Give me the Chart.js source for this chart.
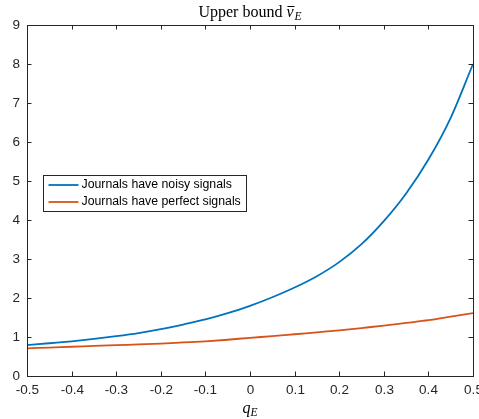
<!DOCTYPE html>
<html>
<head>
<meta charset="utf-8">
<script src="https://cdn.jsdelivr.net/npm/chart.js@4"></script>
<style>
  html, body { margin: 0; padding: 0; background: #fff; }
  #wrap { width: 479px; height: 419px; }
</style>
</head>
<body>
<div id="wrap"><canvas id="chart" width="479" height="419"></canvas></div>
<script>
// Data
const qValues = [-0.5, -0.45, -0.4, -0.35, -0.3, -0.25, -0.2, -0.15, -0.1, -0.05, 0, 0.05, 0.1, 0.15, 0.2, 0.25, 0.3, 0.35, 0.4, 0.45, 0.5];
const noisyValues = [0.79, 0.84, 0.89, 0.95, 1.02, 1.10, 1.20, 1.32, 1.45, 1.61, 1.80, 2.02, 2.27, 2.56, 2.92, 3.38, 3.97, 4.68, 5.55, 6.62, 8.00];
const perfectValues = [0.71, 0.73, 0.75, 0.77, 0.79, 0.81, 0.83, 0.86, 0.89, 0.93, 0.98, 1.02, 1.07, 1.12, 1.17, 1.23, 1.29, 1.36, 1.43, 1.52, 1.61];
const xTickLabels = ['-0.5', '-0.4', '-0.3', '-0.2', '-0.1', '0', '0.1', '0.2', '0.3', '0.4', '0.5'];
const yTickLabels = ['0', '1', '2', '3', '4', '5', '6', '7', '8', '9'];
const seriesLabels = ['Journals have noisy signals', 'Journals have perfect signals'];

const axisColor = '#262626';
const sansFont = '"Liberation Sans", Arial, sans-serif';
const serifFont = '"Liberation Serif", "DejaVu Serif", serif';

function toPoints(ys) {
    return qValues.map((q, i) => ({ x: q, y: ys[i] }));
}

// Draws the MATLAB style box, inward ticks, labels, title and legend
const matlabAxes = {
    id: 'matlabAxes',
    afterDraw(chart) {
        const ctx = chart.ctx;
        const area = chart.chartArea;
        const xs = chart.scales.x;
        const ys = chart.scales.y;
        const tick = 4.5;

        ctx.save();
        ctx.strokeStyle = axisColor;
        ctx.lineWidth = 1;

        // box
        ctx.strokeRect(Math.round(area.left) + 0.5, Math.round(area.top) + 0.5,
            Math.round(area.right - area.left), Math.round(area.bottom - area.top));

        // ticks + labels
        ctx.fillStyle = axisColor;
        ctx.font = '13.5px ' + sansFont;
        ctx.textAlign = 'center';
        ctx.textBaseline = 'top';
        xTickLabels.forEach(lbl => {
            const px = Math.round(xs.getPixelForValue(parseFloat(lbl))) + 0.5;
            ctx.beginPath();
            ctx.moveTo(px, area.bottom);
            ctx.lineTo(px, area.bottom - tick);
            ctx.moveTo(px, area.top);
            ctx.lineTo(px, area.top + tick);
            ctx.stroke();
            ctx.fillText(lbl, px, area.bottom + 8);
        });
        ctx.textAlign = 'right';
        ctx.textBaseline = 'middle';
        yTickLabels.forEach(lbl => {
            const py = Math.round(ys.getPixelForValue(parseFloat(lbl))) + 0.5;
            ctx.beginPath();
            ctx.moveTo(area.left, py);
            ctx.lineTo(area.left + tick, py);
            ctx.moveTo(area.right, py);
            ctx.lineTo(area.right - tick, py);
            ctx.stroke();
            ctx.fillText(lbl, area.left - 7, py);
        });

        // title: Upper bound v-bar_E
        ctx.fillStyle = '#000';
        ctx.textBaseline = 'alphabetic';
        ctx.textAlign = 'left';
        const titleMain = 'Upper bound ';
        ctx.font = '16px ' + serifFont;
        const w1 = ctx.measureText(titleMain).width;
        ctx.font = 'italic 16px ' + serifFont;
        const w2 = ctx.measureText('v').width;
        ctx.font = 'italic 11.5px ' + serifFont;
        const w3 = ctx.measureText('E').width;
        const cx = (area.left + area.right) / 2;
        let tx = cx - (w1 + w2 + w3 + 1) / 2;
        const ty = 17;
        ctx.font = '16px ' + serifFont;
        ctx.fillText(titleMain, tx, ty);
        tx += w1;
        ctx.font = 'italic 16px ' + serifFont;
        ctx.fillText('v', tx, ty);
        ctx.fillRect(tx + 1, ty - 11, w2, 1);
        tx += w2 + 1;
        ctx.font = 'italic 11.5px ' + serifFont;
        ctx.fillText('E', tx, ty + 3);

        // x label q_E
        ctx.font = 'italic 16px ' + serifFont;
        const wq = ctx.measureText('q').width;
        ctx.font = 'italic 11.5px ' + serifFont;
        const wE = ctx.measureText('E').width;
        let lx = cx - (wq + wE) / 2;
        const ly = 413;
        ctx.font = 'italic 16px ' + serifFont;
        ctx.fillText('q', lx, ly);
        ctx.font = 'italic 11.5px ' + serifFont;
        ctx.fillText('E', lx + wq, ly + 3);

        // legend
        const lgX = 43.5, lgY = 175.5, lgW = 203, lgH = 36;
        ctx.fillStyle = '#fff';
        ctx.fillRect(lgX, lgY, lgW, lgH);
        ctx.strokeStyle = axisColor;
        ctx.strokeRect(lgX, lgY, lgW, lgH);
        ctx.font = '12.3px ' + sansFont;
        ctx.textBaseline = 'middle';
        chart.data.datasets.forEach((ds, i) => {
            const rowY = lgY + 9.5 + i * 17;
            ctx.strokeStyle = ds.borderColor;
            ctx.lineWidth = 1.8;
            ctx.beginPath();
            ctx.moveTo(lgX + 5, rowY);
            ctx.lineTo(lgX + 35, rowY);
            ctx.stroke();
            ctx.fillStyle = '#000';
            ctx.fillText(ds.label, lgX + 38, rowY);
        });
        ctx.restore();
    }
};

new Chart(document.getElementById('chart'), {
    type: 'line',
    data: {
        datasets: [
            {
                label: seriesLabels[0],
                data: toPoints(noisyValues),
                borderColor: '#0072BD',
                borderWidth: 1.8,
                pointRadius: 0,
                cubicInterpolationMode: 'monotone',
                fill: false
            },
            {
                label: seriesLabels[1],
                data: toPoints(perfectValues),
                borderColor: '#D95319',
                borderWidth: 1.8,
                pointRadius: 0,
                cubicInterpolationMode: 'monotone',
                fill: false
            }
        ]
    },
    options: {
        responsive: false,
        animation: false,
        layout: { padding: { left: 27, right: 6, top: 25, bottom: 43 } },
        plugins: {
            legend: { display: false },
            tooltip: { enabled: false },
            title: { display: false }
        },
        scales: {
            x: { type: 'linear', min: -0.5, max: 0.5, display: false },
            y: { type: 'linear', min: 0, max: 9, display: false }
        }
    },
    plugins: [matlabAxes]
});
</script>
</body>
</html>
